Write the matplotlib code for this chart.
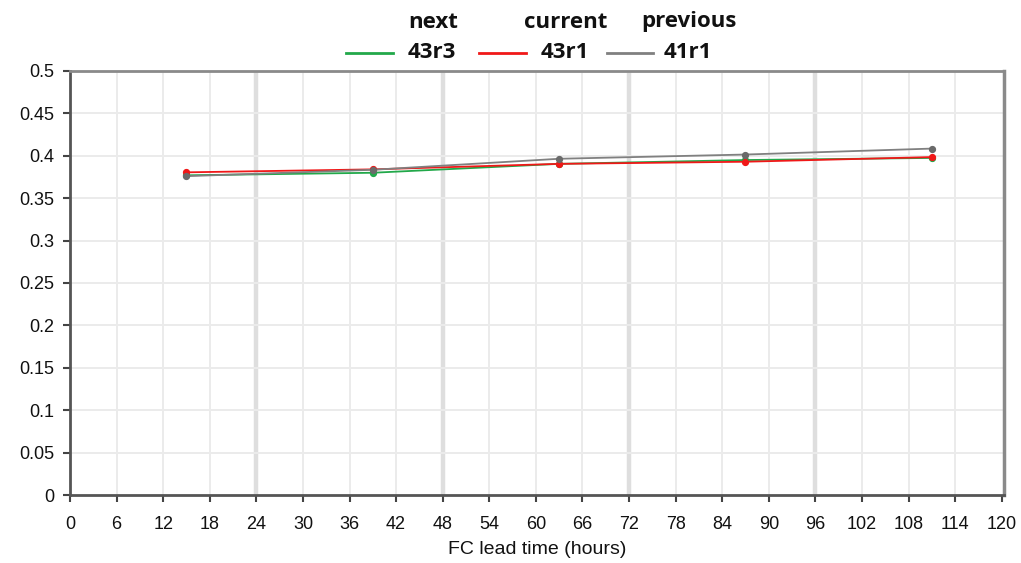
import matplotlib
matplotlib.use("Agg")
import matplotlib.pyplot as plt
from matplotlib.lines import Line2D

lead_time = [15, 39, 63, 87, 111]
series_names = ["43r3", "43r1", "41r1"]
series_roles = ["next", "current", "previous"]
vals_43r3 = [0.3770, 0.3800, 0.3905, 0.3950, 0.3975]
vals_43r1 = [0.3805, 0.3840, 0.3905, 0.3930, 0.3985]
vals_41r1 = [0.3760, 0.3835, 0.3965, 0.4015, 0.4085]
colors = ["#22a84a", "#f01818", "#808080"]
marker_colors = ["#22a84a", "#f01818", "#6a6a6a"]

x_ticks = list(range(0, 121, 6))
y_ticks = [0, 0.05, 0.1, 0.15, 0.2, 0.25, 0.3, 0.35, 0.4, 0.45, 0.5]
y_tick_labels = ["0", "0.05", "0.1", "0.15", "0.2", "0.25", "0.3", "0.35", "0.4", "0.45", "0.5"]

fig = plt.figure(figsize=(10.21, 5.63), dpi=100)
ax = fig.add_axes([70/1021, 1-495/563, (1004-70)/1021, (495-71)/563])

ax.set_xlim(0, 120.3)
ax.set_ylim(0, 0.5)

# grid
for xv in x_ticks[1:-1]:
    if xv % 24 == 0:
        ax.axvline(xv, color="#dedede", lw=3.2, zorder=0)
    else:
        ax.axvline(xv, color="#ebebeb", lw=1.4, zorder=0)
for yv in y_ticks[1:]:
    ax.axhline(yv, color="#ebebeb", lw=1.4, zorder=0)

all_vals = [vals_43r3, vals_43r1, vals_41r1]
for vals, c, mc in zip(all_vals, colors, marker_colors):
    ax.plot(lead_time, vals, color=c, lw=1.3, zorder=3)
    ax.plot(lead_time, vals, ls="none", marker="o", ms=4.2, color=mc, zorder=4)

ax.set_xticks(x_ticks)
ax.set_xticklabels([str(v) for v in x_ticks])
ax.set_yticks(y_ticks)
ax.set_yticklabels(y_tick_labels)
ax.tick_params(axis="both", direction="out", length=5, width=1.5, color="#444444",
               labelsize=13, labelcolor="#111111")
ax.tick_params(axis="x", pad=10)
ax.tick_params(axis="y", pad=6)
for lab in ax.get_xticklabels() + ax.get_yticklabels():
    lab.set_fontfamily("Liberation Sans")

ax.spines["left"].set_color("#555555")
ax.spines["left"].set_linewidth(2)
ax.spines["bottom"].set_color("#555555")
ax.spines["bottom"].set_linewidth(2)
ax.spines["top"].set_color("#8a8a8a")
ax.spines["top"].set_linewidth(2)
ax.spines["right"].set_color("#8a8a8a")
ax.spines["right"].set_linewidth(2.5)

fig.text(537/1021, 1-550/563, "FC lead time (hours)", ha="center", va="center",
         fontsize=14, family="Liberation Sans", color="#111111")

# legend: lines + labels, with role labels above
leg_font = dict(family="Open Sans", weight="bold", fontsize=16, color="#111111")
line_x = [(346, 393), (479, 526), (607, 653)]
lab_x = [432, 565, 688]
role_x = [433, 566, 689]
for (x0, x1), lx, rx, c, name, role in zip(line_x, lab_x, role_x, colors, series_names, series_roles):
    fig.add_artist(Line2D([x0/1021, x1/1021], [1-53/563, 1-53/563], color=c, lw=2))
    fig.text(lx/1021, 1-53/563, name, ha="center", va="center", **leg_font)
    fig.text(rx/1021, 1-22/563, role, ha="center", va="center", **leg_font)

fig.savefig("out.png", dpi=100)
